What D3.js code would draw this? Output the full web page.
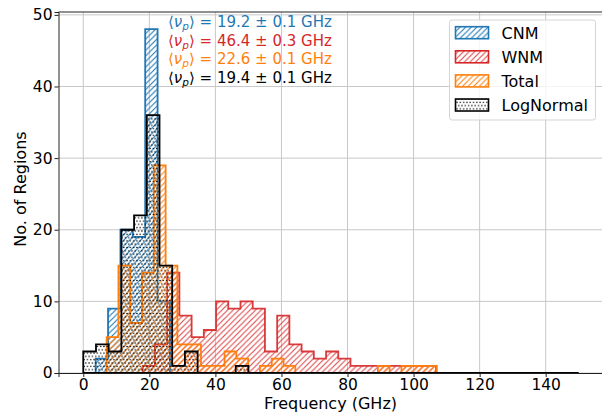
<!DOCTYPE html>
<html>
<head>
<meta charset="utf-8">
<script src="https://cdn.jsdelivr.net/npm/d3@7"></script>
<style>
  body { margin: 0; background: #fff; }
  text { font-family: "DejaVu Sans", sans-serif; }
</style>
</head>
<body>
<div id="chart"></div>
<script>
// histogram bins (GHz) and counts per bin
const cnmEdges = [3.75, 7.5, 11.25, 15, 18.75, 22.5, 26.25];
const cnmCounts = [2, 9, 20, 19, 48, 10];

const wnmEdges = [18, 21.7, 25.4, 29.1, 32.8, 36.5, 40.2, 43.9, 47.6, 51.3, 55.0, 58.7, 62.4,
    66.1, 69.8, 73.5, 77.2, 80.9, 84.6, 88.3, 92.0, 95.7, 99.4, 103.1, 106.8];
const wnmCounts = [1, 4, 14, 8, 5, 6, 10, 9, 10, 9, 3, 8, 4, 3, 2, 3, 2, 1, 1, 1, 1, 1, 1, 1];

const totalEdges = [7.08, 10.65, 14.22, 17.79, 21.36, 24.93, 28.50, 32.07, 35.64, 39.21, 42.78,
    46.35, 49.92, 53.49, 57.06, 60.63, 64.20, 67.77, 71.34, 74.91, 78.48, 82.05, 85.62, 89.19,
    92.76, 96.33, 99.90, 103.47, 107.04];
const totalCounts = [5, 15, 7, 14, 29, 15, 4, 4, 1, 1, 3, 2, 0, 1, 2, 1, 0, 0, 0, 0, 0, 0, 0, 1, 0, 1, 1, 1];

const logEdges = [0, 3.85, 7.69, 11.54, 15.38, 19.23, 23.08, 26.92, 30.77, 34.62, 38.46, 42.31,
    46.15, 50, 53.85, 57.69, 61.54, 65.38, 69.23, 73.08, 76.92, 80.77, 84.62, 88.46, 92.31,
    96.15, 100, 103.85, 107.69, 111.54, 115.38, 119.23, 123.08, 126.92, 130.77, 134.62, 138.46,
    142.31, 146.15, 150];
const logCounts = [3, 4, 3, 20, 22, 36, 15, 1, 3, 0, 0, 0, 1, 0, 0, 0, 0, 0, 0, 0, 0, 0, 0, 0,
    0, 0, 0, 0, 0, 0, 0, 0, 0, 0, 0, 0, 0, 0, 0];

const seriesNames = ["CNM", "WNM", "Total", "LogNormal"];
const peakMeans = ["19.2", "46.4", "22.6", "19.4"];
const peakErrs = ["0.1", "0.3", "0.1", "0.1"];

const xTicks = [0, 20, 40, 60, 80, 100, 120, 140];
const yTicks = [0, 10, 20, 30, 40, 50];

const svg_width = 602, svg_height = 413;
const margin = {top: 12, left: 58.5, bottom: 373, right: 603.5};

const x = d3.scaleLinear().domain([-7.5, 157.5]).range([margin.left, margin.right]);
const y = d3.scaleLinear().domain([0, 50.4]).range([margin.bottom, margin.top]);

const colors = ["#1f77b4", "#d62728", "#ff7f0e", "#000000"];
const hists = [
    {edges: cnmEdges, counts: cnmCounts},
    {edges: wnmEdges, counts: wnmCounts},
    {edges: totalEdges, counts: totalCounts},
    {edges: logEdges, counts: logCounts}
];

const svg = d3.select("#chart").append("svg")
    .attr("width", svg_width)
    .attr("height", svg_height);

// hatch patterns
const defs = svg.append("defs");
["hatch0", "hatch1", "hatch2"].forEach((id, i) => {
    const p = defs.append("pattern")
        .attr("id", id)
        .attr("patternUnits", "userSpaceOnUse")
        .attr("width", 5.6)
        .attr("height", 5.6);
    p.append("path")
        .attr("d", "M-1.4,1.4 L1.4,-1.4 M0,5.6 L5.6,0 M4.2,7 L7,4.2")
        .attr("stroke", colors[i])
        .attr("stroke-width", 1.1)
        .attr("opacity", i === 1 ? 0.85 : 1);
});
const dots = defs.append("pattern")
    .attr("id", "hatch3")
    .attr("patternUnits", "userSpaceOnUse")
    .attr("width", 3.3)
    .attr("height", 6.6);
[[0, 0], [3.3, 0], [0, 6.6], [3.3, 6.6], [1.65, 3.3]].forEach(c => {
    dots.append("circle").attr("cx", c[0]).attr("cy", c[1]).attr("r", 0.75).attr("fill", "#000");
});

// grid
const grid = svg.append("g").attr("stroke", "#c8c8c8").attr("stroke-width", 1);
grid.selectAll(".gx").data(xTicks).join("line")
    .attr("x1", d => x(d)).attr("x2", d => x(d))
    .attr("y1", margin.top).attr("y2", margin.bottom);
grid.selectAll(".gy").data(yTicks).join("line")
    .attr("x1", margin.left).attr("x2", margin.right)
    .attr("y1", d => y(d)).attr("y2", d => y(d));

// step outline of a histogram
const stepPath = h => {
    let pts = [[h.edges[0], 0]];
    h.counts.forEach((c, i) => {
        pts.push([h.edges[i], c]);
        pts.push([h.edges[i + 1], c]);
    });
    pts.push([h.edges[h.edges.length - 1], 0]);
    return "M" + pts.map(p => x(p[0]) + "," + y(p[1])).join("L") + "Z";
};

svg.append("g").selectAll("path")
    .data(hists)
    .join("path")
        .attr("d", stepPath)
        .attr("fill", (d, i) => `url(#hatch${i})`)
        .attr("stroke", (d, i) => colors[i])
        .attr("stroke-opacity", (d, i) => i === 1 ? 0.9 : 1)
        .attr("stroke-width", 1.8)
        .attr("stroke-linejoin", "miter");

// axes
const xAxis = svg.append("g")
    .attr("transform", `translate(0,${margin.bottom})`)
    .call(d3.axisBottom(x).tickValues(xTicks).tickSize(4).tickPadding(2));
const yAxis = svg.append("g")
    .attr("transform", `translate(${margin.left},0)`)
    .call(d3.axisLeft(y).tickValues(yTicks).tickSize(4).tickPadding(2));
[xAxis, yAxis].forEach(a => {
    a.select(".domain").attr("stroke", "#222").attr("stroke-width", 1);
    a.selectAll(".tick line").attr("stroke", "#222");
    a.selectAll(".tick text")
        .attr("fill", "#000")
        .style("font-size", "15.5px")
        .style("font-family", "DejaVu Sans");
});
svg.append("line")
    .attr("x1", margin.left).attr("x2", margin.right)
    .attr("y1", margin.top).attr("y2", margin.top)
    .attr("stroke", "#222");

svg.append("text")
    .attr("x", (margin.left + margin.right) / 2 - 0.5)
    .attr("y", 409)
    .attr("text-anchor", "middle")
    .style("font-size", "16px")
    .text("Frequency (GHz)");

svg.append("text")
    .attr("transform", "translate(26,189) rotate(-90)")
    .attr("text-anchor", "middle")
    .style("font-size", "16px")
    .text("No. of Regions");

// peak frequency annotations
const notes = svg.append("g");
peakMeans.forEach((m, i) => {
    const t = notes.append("text")
        .attr("x", 168)
        .attr("y", 27 + i * 18.6)
        .attr("fill", colors[i])
        .style("font-size", "15px");
    t.append("tspan").text("\u27E8");
    t.append("tspan").style("font-style", "italic").text("\u03BD");
    t.append("tspan").style("font-style", "italic").style("font-size", "10.5px").attr("dy", 3).text("p");
    t.append("tspan").attr("dy", -3).text(`\u27E9 = ${m} \u00B1 ${peakErrs[i]} GHz`);
});

// legend
const legend = svg.append("g");
legend.append("rect")
    .attr("x", 449.5).attr("y", 20)
    .attr("width", 146).attr("height", 100)
    .attr("rx", 2.5)
    .attr("fill", "#fff").attr("fill-opacity", 0.8)
    .attr("stroke", "#d5d5d5");
seriesNames.forEach((name, i) => {
    const cy = 32.7 + i * 24.1;
    legend.append("rect")
        .attr("x", 455.5).attr("y", cy - 6)
        .attr("width", 33).attr("height", 12)
        .attr("fill", `url(#hatch${i})`)
        .attr("stroke", colors[i])
        .attr("stroke-width", 1.6);
    legend.append("text")
        .attr("x", 501.5).attr("y", cy + 5.8)
        .style("font-size", "16px")
        .text(name);
});
</script>
</body>
</html>
